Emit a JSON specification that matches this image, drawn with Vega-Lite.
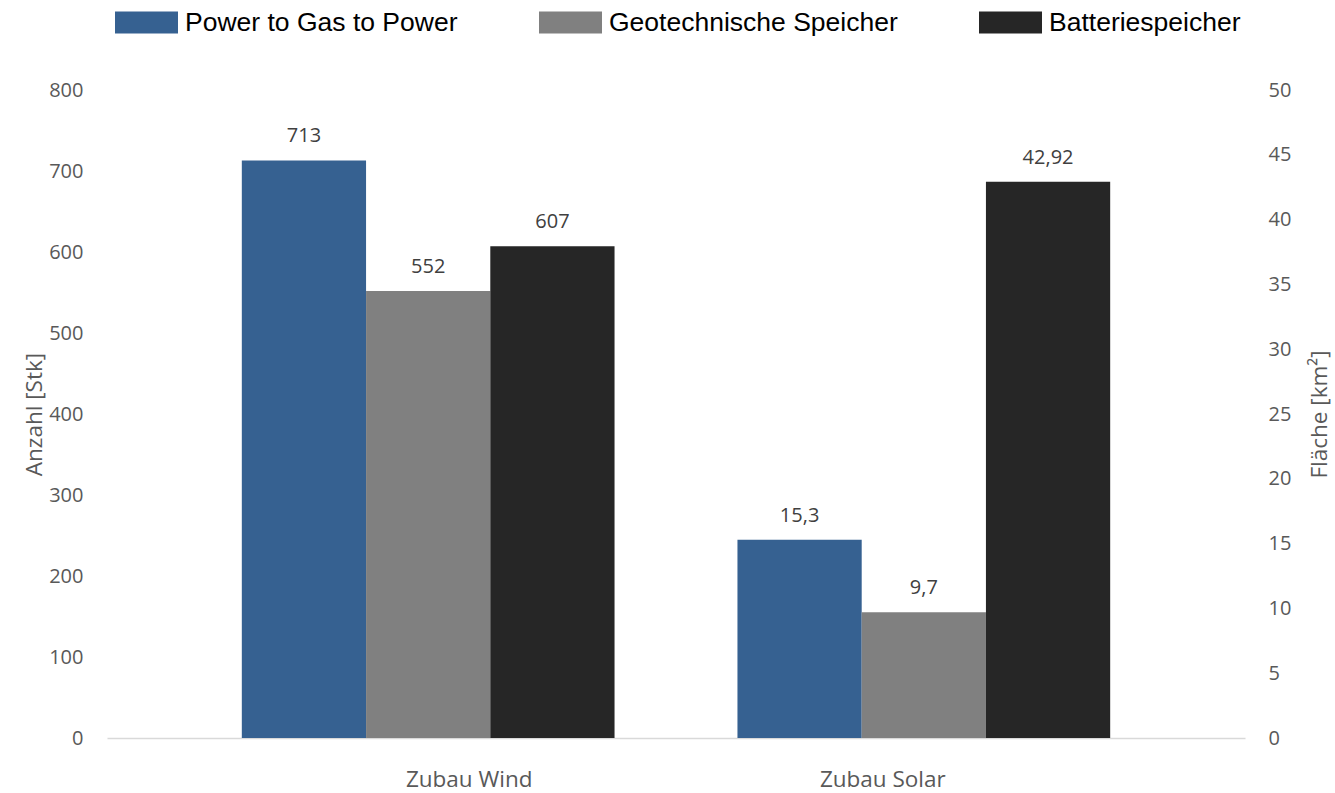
{
  "$schema": "https://vega.github.io/schema/vega-lite/v6.json",
  "width": 1138,
  "height": 648,
  "autosize": {"type": "none"},
  "padding": {"left": 107, "top": 90, "right": 90, "bottom": 55},
  "background": "white",
  "config": {
    "view": {"stroke": null},
    "locale": {"number": {"decimal": ",", "thousands": ".", "grouping": [3], "currency": ["", " €"]}},
    "axis": {"grid": false, "ticks": false, "labelOverlap": false, "labelFont": "Open Sans", "labelFontSize": 20, "labelColor": "#595959", "titleFont": "Open Sans", "titleFontSize": 22.5, "titleColor": "#595959", "titleFontWeight": "normal"}
  },
  "data": {"values": [
    {"kategorie": "Zubau Wind", "reihe": "Power to Gas to Power", "wert": 713},
    {"kategorie": "Zubau Wind", "reihe": "Geotechnische Speicher", "wert": 552},
    {"kategorie": "Zubau Wind", "reihe": "Batteriespeicher", "wert": 607},
    {"kategorie": "Zubau Solar", "reihe": "Power to Gas to Power", "wert": 15.3},
    {"kategorie": "Zubau Solar", "reihe": "Geotechnische Speicher", "wert": 9.7},
    {"kategorie": "Zubau Solar", "reihe": "Batteriespeicher", "wert": 42.92}
  ]},
  "encoding": {
    "x": {
      "field": "kategorie", "type": "nominal",
      "scale": {"domain": ["Zubau Wind", "Zubau Solar"], "paddingInner": 0.248, "paddingOuter": 0.272},
      "axis": {
        "title": null, "labelAngle": 0, "domainColor": "#d9d9d9", "domainWidth": 1.5, "labelPadding": 30, "labelFontSize": 22.5,
        "labelOffset": {"condition": {"test": "datum.value === 'Zubau Wind'", "value": 41}, "value": -41}
      }
    },
    "xOffset": {
      "field": "reihe", "type": "nominal",
      "scale": {"domain": ["Power to Gas to Power", "Geotechnische Speicher", "Batteriespeicher"], "paddingInner": 0, "paddingOuter": 0}
    },
    "color": {
      "field": "reihe", "type": "nominal",
      "scale": {"domain": ["Power to Gas to Power", "Geotechnische Speicher", "Batteriespeicher"], "range": ["#366191", "#808080", "#262626"]},
      "legend": {
        "orient": "none", "legendX": 8, "legendY": -99, "direction": "horizontal", "title": null,
        "symbolType": "M-1,-0.35H1V0.35H-1Z", "symbolSize": 3969, "symbolStrokeWidth": 0, "symbolOpacity": 1,
        "labelFont": "Liberation Sans", "labelFontSize": 26.5, "labelColor": "#000000", "labelOffset": 7,
        "columnPadding": 81, "labelLimit": 400
      }
    }
  },
  "layer": [
    {
      "transform": [{"filter": "datum.kategorie === 'Zubau Wind'"}],
      "encoding": {
        "y": {
          "field": "wert", "type": "quantitative",
          "scale": {"domain": [0, 800]},
          "axis": {"orient": "left", "title": "Anzahl [Stk]", "values": [0,100,200,300,400,500,600,700,800], "domain": false, "labelPadding": 24, "titlePadding": 2}
        }
      },
      "layer": [
        {"mark": {"type": "bar", "opacity": 1}},
        {"mark": {"type": "text", "baseline": "alphabetic", "dy": -18, "font": "Open Sans", "fontSize": 20},
         "encoding": {"text": {"field": "wert", "type": "quantitative", "format": ".2~f"}, "color": {"value": "#404040"}}}
      ]
    },
    {
      "transform": [{"filter": "datum.kategorie === 'Zubau Solar'"}],
      "encoding": {
        "y": {
          "field": "wert", "type": "quantitative",
          "scale": {"domain": [0, 50]},
          "axis": {"orient": "right", "title": "Fläche [km²]", "titleAngle": -90, "values": [0,5,10,15,20,25,30,35,40,45,50], "domain": false, "labelPadding": 23, "titlePadding": 41}
        }
      },
      "layer": [
        {"mark": {"type": "bar", "opacity": 1}},
        {"mark": {"type": "text", "baseline": "alphabetic", "dy": -18, "font": "Open Sans", "fontSize": 20},
         "encoding": {"text": {"field": "wert", "type": "quantitative", "format": ".2~f"}, "color": {"value": "#404040"}}}
      ]
    }
  ],
  "resolve": {"scale": {"y": "independent"}, "axis": {"y": "independent"}}
}
